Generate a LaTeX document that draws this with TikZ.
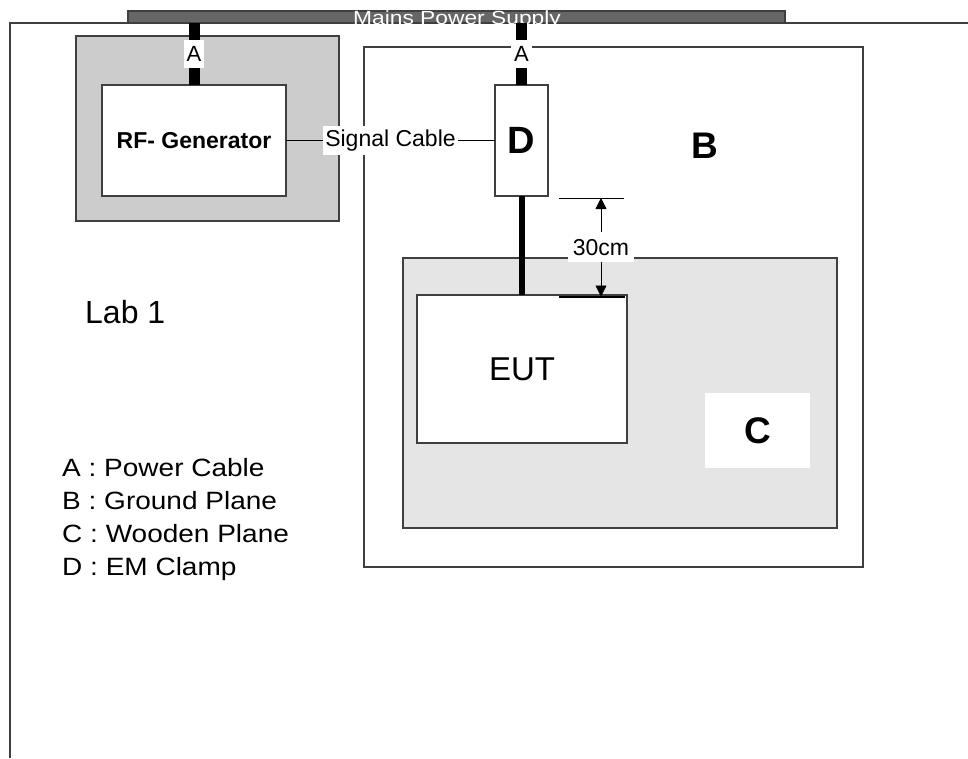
\documentclass[tikz,border=0pt]{standalone}
\usepackage{fontspec}
\setmainfont{Liberation Sans}
\usetikzlibrary{arrows.meta}
\definecolor{edgegray}{HTML}{3F3F3F}
\definecolor{mainsgray}{HTML}{666666}
\definecolor{rackgray}{HTML}{CCCCCC}
\definecolor{woodgray}{HTML}{E5E5E5}
\newcommand{\px}[1]{\fontsize{#1}{#1}\selectfont}

\begin{document}
\begin{tikzpicture}[x=1pt,y=-1pt,
  plate/.style={rectangle,draw=edgegray,line width=1.2pt,inner sep=0pt,outer sep=0pt},
  cable/.style={line width=11pt,black},
  lead/.style={line width=6pt,black},
  wire/.style={draw=black,line width=1pt},
  tag/.style={fill=white,inner xsep=3pt,inner ysep=6pt},
  legend/.style={anchor=base west,inner sep=0pt,font=\px{25},xscale=1.12},
  dimarrow/.style={{Triangle[length=11pt,width=11pt]}-{Triangle[length=11pt,width=11pt]},line width=0.8pt},
]
\useasboundingbox (0,0) rectangle (968,758);

% lab wall and mains bar
\draw[edgegray,line width=1.5pt] (10,758) -- (10,23) -- (968,23);
\node[plate,fill=mainsgray,minimum width=657pt,minimum height=12pt] (mains) at (456.5,17) {};
\node[font=\px{19},text=white,anchor=base,xscale=1.2,inner sep=0pt] (mainstext) at (457,24) {Mains Power Supply};

% generator side
\node[plate,fill=rackgray,minimum width=263pt,minimum height=185pt] (rack) at (207.5,128.5) {};
\node[plate,fill=white,minimum width=184pt,minimum height=111pt,font=\bfseries\px{23}] (rfgen) at (194,140.5) {RF- Generator};

% test set-up
\node[plate,fill=white,minimum width=499pt,minimum height=520pt] (ground) at (613.5,307) {};
\node[plate,fill=woodgray,minimum width=434pt,minimum height=270pt] (wood) at (620,393) {};
\node[plate,fill=white,minimum width=210pt,minimum height=148pt,font=\px{33}] (eut) at (522,369) {EUT};
\node[plate,fill=white,minimum width=53pt,minimum height=111pt,font=\bfseries\px{38}] (clamp) at (521.5,140.5) {D};
\node[fill=white,minimum width=105pt,minimum height=75pt,inner sep=0pt,font=\bfseries\px{37}] (woodtag) at (757.5,430.5) {C};
\node[font=\bfseries\px{37}] (groundtag) at (705,146) {B};
\node[font=\px{32},anchor=base west,inner sep=0pt] (lab) at (85,323) {Lab 1};

% cables
\draw[cable] (rfgen.north) -- node[tag,font=\px{22}] (pwrgen) {A} (rfgen.north |- mains.south);
\draw[cable] (clamp.north) -- node[tag,font=\px{22}] (pwreut) {A} (clamp.north |- mains.south);
\draw[wire] (rfgen.east) -- node[tag,inner xsep=2pt,inner ysep=4pt,font=\px{23}] (sig) {Signal Cable} (clamp.west);
\draw[lead] (clamp.south) -- (clamp.south |- eut.north);

% 30cm distance
\coordinate (dtop) at (601,198);
\coordinate (dbot) at (601,296.5);
\draw[wire] ([xshift=-42pt]dtop) -- ([xshift=23pt]dtop);
\draw[line width=2pt] ([xshift=-42pt]dbot) -- ([xshift=24pt]dbot);
\draw[dimarrow] (dtop) -- node[tag,inner xsep=5pt,inner ysep=7pt,font=\px{23}] (dimtag) {30cm} (dbot);

% legend
\node[legend] (legA) at (62,476) {A : Power Cable};
\node[legend] (legB) at (62,509) {B : Ground Plane};
\node[legend] (legC) at (62,542) {C : Wooden Plane};
\node[legend] (legD) at (62,575) {D : EM Clamp};

\end{tikzpicture}
\end{document}
